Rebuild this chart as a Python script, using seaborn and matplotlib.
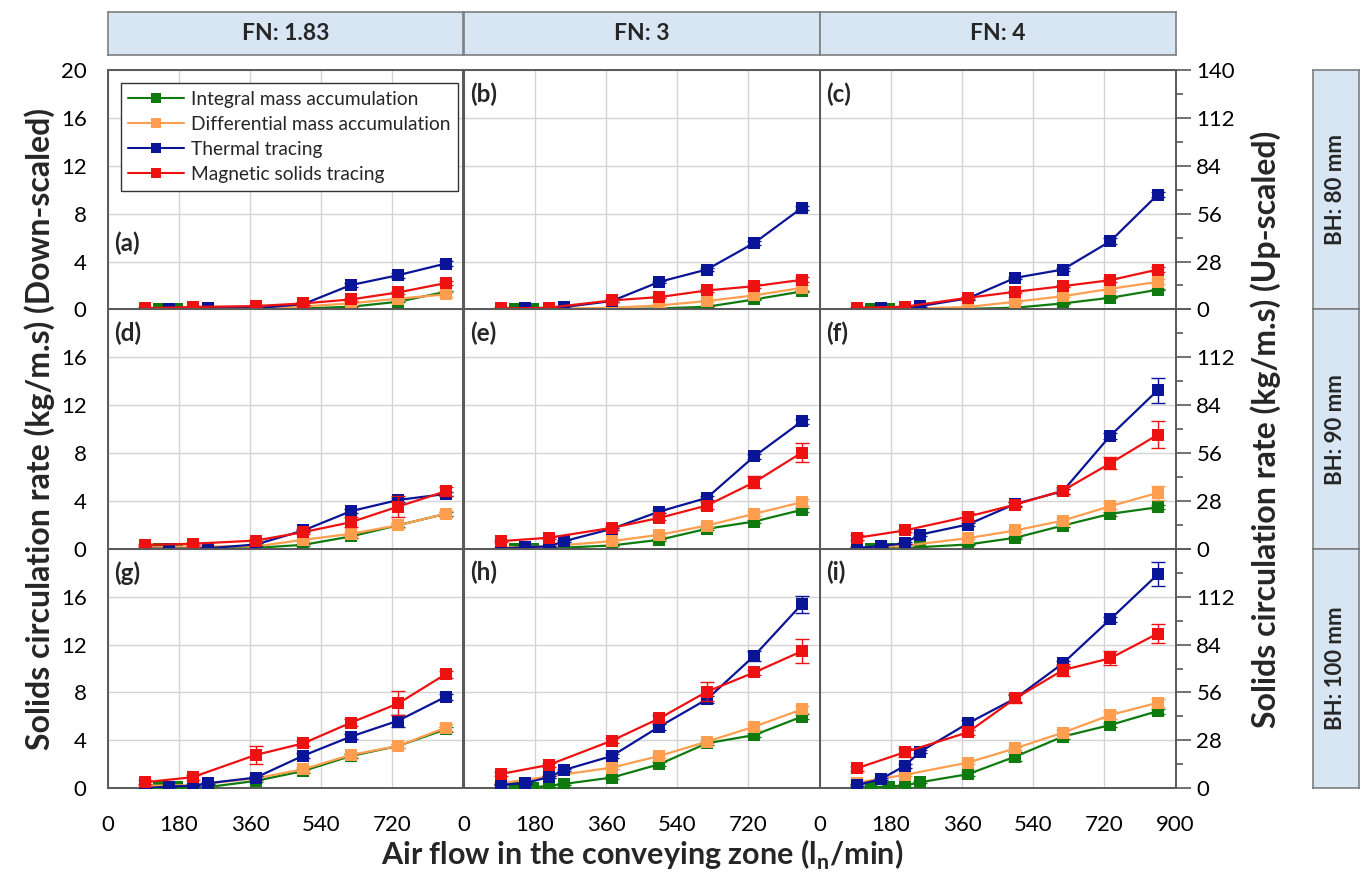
import numpy as np
import pandas as pd
import matplotlib
matplotlib.use("Agg")
import matplotlib.pyplot as plt
from matplotlib.lines import Line2D
from matplotlib.ticker import MultipleLocator
import seaborn as sns

# ---------------- data ----------------
panel_letters = ["a", "b", "c", "d", "e", "f", "g", "h", "i"]
fn_labels = ["FN: 1.83", "FN: 3", "FN: 4"]
bh_labels = ["BH: 80 mm", "BH: 90 mm", "BH: 100 mm"]
method_names = ["Integral mass accumulation", "Differential mass accumulation",
                "Thermal tracing", "Magnetic solids tracing"]

x_integral = [130, 175, 215, 255, 375, 495, 615, 735, 855]
x_differential = [95, 215, 375, 495, 615, 735, 855]
x_thermal = [95, 155, 215, 255, 375, 495, 615, 735, 855]
x_magnetic = [95, 215, 375, 495, 615, 735, 855]

integral = [
    [0, 0, 0, 0, 0.02, 0.08, 0.22, 0.64, 1.47],
    [0, 0, 0, 0, 0.02, 0.08, 0.22, 0.83, 1.50],
    [0, 0, 0, 0, 0.05, 0.14, 0.50, 0.97, 1.64],
    [0, 0, 0, 0.05, 0.08, 0.33, 1.03, 1.97, 2.92],
    [0, 0, 0.05, 0.10, 0.28, 0.75, 1.67, 2.28, 3.25],
    [0, 0, 0.05, 0.14, 0.36, 0.92, 1.94, 2.92, 3.47],
    [0.10, 0.10, 0.10, 0.10, 0.61, 1.44, 2.69, 3.53, 4.92],
    [0.05, 0.05, 0.20, 0.36, 0.89, 2.00, 3.75, 4.44, 5.97],
    [0.08, 0.14, 0.22, 0.50, 1.17, 2.64, 4.31, 5.28, 6.44],
]
differential = [
    [0.05, 0.10, 0.10, 0.25, 0.50, 0.90, 1.25],
    [0.00, 0.05, 0.14, 0.33, 0.70, 1.17, 1.80],
    [0.05, 0.05, 0.20, 0.64, 1.10, 1.72, 2.30],
    [0.10, 0.20, 0.20, 0.75, 1.25, 1.97, 2.92],
    [0.10, 0.20, 0.64, 1.17, 1.94, 2.92, 3.89],
    [0.10, 0.25, 0.89, 1.53, 2.36, 3.56, 4.67],
    [0.20, 0.25, 0.83, 1.58, 2.78, 3.53, 5.06],
    [0.42, 0.97, 1.72, 2.69, 3.89, 5.14, 6.58],
    [0.47, 1.11, 2.14, 3.33, 4.64, 6.11, 7.14],
]
thermal = [
    [0, 0, 0.05, 0.10, 0.10, 0.44, 2.03, 2.86, 3.83],
    [0, 0.08, 0, 0.20, 0.70, 2.30, 3.33, 5.55, 8.47],
    [0, 0.14, 0.05, 0.28, 0.92, 2.64, 3.33, 5.69, 9.58],
    [0, 0, 0, 0.05, 0.36, 1.53, 3.14, 4.08, 4.58],
    [0, 0.14, 0.20, 0.64, 1.67, 3.11, 4.25, 7.72, 10.64],
    [0.08, 0.22, 0.47, 1.19, 2.03, 3.75, 4.81, 9.44, 13.25],
    [0, 0.14, 0.20, 0.42, 0.89, 2.72, 4.31, 5.64, 7.64],
    [0.28, 0.42, 0.92, 1.53, 2.69, 5.14, 7.42, 11.06, 15.36],
    [0.28, 0.75, 1.86, 3.06, 5.42, 7.50, 10.42, 14.11, 17.86],
]
magnetic = [
    [0.10, 0.20, 0.28, 0.50, 0.83, 1.42, 2.20],
    [0.08, 0.14, 0.75, 1.03, 1.58, 1.94, 2.47],
    [0.14, 0.22, 0.97, 1.47, 1.94, 2.44, 3.33],
    [0.33, 0.42, 0.69, 1.39, 2.22, 3.53, 4.80],
    [0.64, 0.92, 1.75, 2.58, 3.61, 5.56, 8.03],
    [0.92, 1.53, 2.69, 3.69, 4.86, 7.14, 9.53],
    [0.50, 0.92, 2.78, 3.75, 5.47, 7.08, 9.53],
    [1.19, 1.94, 3.97, 5.83, 8.06, 9.67, 11.44],
    [1.67, 3.00, 4.67, 7.50, 9.86, 10.86, 12.92],
]

integral_err = [
    [0.05] * 9, [0.05] * 9, [0.05] * 9,
    [0.05, 0.05, 0.05, 0.05, 0.05, 0.1, 0.1, 0.15, 0.15],
    [0.05, 0.05, 0.05, 0.05, 0.05, 0.1, 0.1, 0.15, 0.15],
    [0.05, 0.05, 0.05, 0.05, 0.05, 0.1, 0.1, 0.15, 0.15],
    [0.1, 0.1, 0.1, 0.1, 0.1, 0.15, 0.15, 0.2, 0.2],
    [0.1, 0.1, 0.1, 0.1, 0.1, 0.15, 0.15, 0.2, 0.2],
    [0.1, 0.1, 0.1, 0.1, 0.15, 0.4, 0.2, 0.2, 0.2],
]
differential_err = [
    [0.05, 0.05, 0.05, 0.1, 0.1, 0.15, 0.2],
    [0.05, 0.05, 0.05, 0.1, 0.1, 0.15, 0.2],
    [0.05, 0.05, 0.05, 0.1, 0.1, 0.15, 0.2],
    [0.05, 0.05, 0.1, 0.1, 0.15, 0.2, 0.25],
    [0.05, 0.05, 0.1, 0.1, 0.15, 0.2, 0.3],
    [0.05, 0.05, 0.1, 0.15, 0.2, 0.25, 0.6],
    [0.1, 0.1, 0.1, 0.15, 0.2, 0.2, 0.3],
    [0.1, 0.1, 0.1, 0.15, 0.15, 0.25, 0.3],
    [0.1, 0.1, 0.1, 0.15, 0.2, 0.3, 0.35],
]
thermal_err = [
    [0.05, 0.05, 0.05, 0.1, 0.1, 0.1, 0.15, 0.2, 0.2],
    [0.05, 0.05, 0.05, 0.1, 0.1, 0.1, 0.15, 0.2, 0.2],
    [0.05, 0.05, 0.05, 0.1, 0.1, 0.1, 0.15, 0.25, 0.2],
    [0.05, 0.05, 0.05, 0.1, 0.1, 0.1, 0.15, 0.2, 0.2],
    [0.05, 0.05, 0.05, 0.1, 0.1, 0.15, 0.15, 0.2, 0.2],
    [0.05, 0.05, 0.1, 0.1, 0.15, 0.15, 0.2, 0.25, 1.05],
    [0.05, 0.05, 0.05, 0.1, 0.1, 0.2, 0.2, 0.5, 0.25],
    [0.05, 0.05, 0.1, 0.1, 0.2, 0.25, 0.3, 0.4, 0.7],
    [0.1, 0.1, 0.15, 0.15, 0.3, 0.3, 0.2, 0.2, 1.0],
]
magnetic_err = [
    [0.1, 0.1, 0.1, 0.1, 0.1, 0.15, 0.2],
    [0.1, 0.1, 0.1, 0.1, 0.1, 0.15, 0.2],
    [0.1, 0.1, 0.1, 0.1, 0.1, 0.15, 0.2],
    [0.1, 0.1, 0.1, 0.15, 0.4, 0.9, 0.4],
    [0.1, 0.1, 0.15, 0.2, 0.3, 0.5, 0.8],
    [0.2, 0.15, 0.3, 0.2, 0.3, 0.5, 1.15],
    [0.15, 0.2, 0.75, 0.2, 0.3, 1.0, 0.3],
    [0.2, 0.2, 0.2, 0.3, 0.8, 0.2, 1.0],
    [0.2, 0.4, 0.2, 0.4, 0.5, 0.6, 0.8],
]

x_ticks = [0, 180, 360, 540, 720, 900]
y_ticks = [0, 4, 8, 12, 16, 20]
y_ticks_right = [0, 28, 56, 84, 112, 140]

# ---------------- style ----------------
sns.set_style("white")
plt.rcParams["font.family"] = ["Lato", "DejaVu Sans"]
plt.rcParams["mathtext.fontset"] = "custom"
plt.rcParams["mathtext.rm"] = "Lato"
plt.rcParams["mathtext.bf"] = "Lato:bold"

colors = ["#0f7b0f", "#ff9e4f", "#0a1496", "#ee1111"]
spine_c = "#595959"
grid_c = "#d4d4d4"
TICK_FS = 16

W, H = 1363, 889
fig = plt.figure(figsize=(W / 100, H / 100), dpi=100)

left0 = 107.5
colw = 356.0
top0 = 70.0
rowh = 239.4


def fx(px):
    return px / W


def fy(px):
    return 1 - px / H


series = [
    (x_integral, integral, integral_err),
    (x_differential, differential, differential_err),
    (x_thermal, thermal, thermal_err),
    (x_magnetic, magnetic, magnetic_err),
]

for r in range(3):
    for c in range(3):
        k = r * 3 + c
        ax = fig.add_axes([fx(left0 + c * colw), fy(top0 + (r + 1) * rowh),
                           fx(colw), rowh / H])
        for m, (xs, ys, es) in enumerate(series):
            df = pd.DataFrame({"x": xs, "y": ys[k]})
            sns.lineplot(data=df, x="x", y="y", ax=ax, color=colors[m],
                         marker="s", markersize=8.5, markeredgewidth=0,
                         linewidth=1.6, errorbar=None, legend=False,
                         zorder=3 + m)
            ax.errorbar(xs, ys[k], yerr=es[k], fmt="none", ecolor=colors[m],
                        elinewidth=1.0, capsize=5, capthick=1.0,
                        zorder=3 + m)
        ax.set_xlim(0, 900)
        ax.set_ylim(0, 20)
        ax.set_xticks(x_ticks)
        ax.set_yticks(y_ticks)
        ax.xaxis.set_minor_locator(MultipleLocator(90))
        ax.yaxis.set_minor_locator(MultipleLocator(2))
        ax.grid(True, which="major", color=grid_c, linewidth=1.0)
        ax.set_axisbelow(True)
        ax.set_xlabel("")
        ax.set_ylabel("")
        for s in ax.spines.values():
            s.set_color(spine_c)
            s.set_linewidth(1.4)
        ax.tick_params(which="both", colors=spine_c, labelcolor="black",
                       labelsize=TICK_FS, direction="out")
        ax.tick_params(which="major", length=11, width=1.2)
        ax.tick_params(which="minor", length=5, width=1.2)
        # x axis
        if r == 2:
            labs = [str(t) for t in x_ticks]
            if c < 2:
                labs[-1] = ""
            ax.set_xticklabels(labs)
            ax.tick_params(axis="x", pad=8)
        else:
            ax.tick_params(axis="x", which="both", length=0, labelbottom=False)
        # y axis
        if c == 0:
            labs = [str(t) for t in y_ticks]
            if r > 0:
                labs[-1] = ""
            ax.set_yticklabels(labs)
            ax.tick_params(axis="y", pad=4)
        else:
            ax.tick_params(axis="y", which="both", length=0, labelleft=False)
        if c == 2:
            ax2 = ax.twinx()
            ax2.set_ylim(0, 140)
            ax2.set_yticks(y_ticks_right)
            ax2.yaxis.set_minor_locator(MultipleLocator(14))
            labs = [str(t) for t in y_ticks_right]
            if r > 0:
                labs[-1] = ""
            ax2.set_yticklabels(labs)
            ax2.grid(False)
            for s in ax2.spines.values():
                s.set_visible(False)
            ax2.tick_params(which="both", colors=spine_c, labelcolor="black",
                            labelsize=TICK_FS, direction="out")
            ax2.tick_params(which="major", length=11, width=1.2, pad=4)
            ax2.tick_params(which="minor", length=5, width=1.2)
        # panel letter
        ly = 0.275 if k == 0 else 0.9
        ax.text(0.018, ly, f"({panel_letters[k]})", transform=ax.transAxes,
                fontsize=17.5, fontweight="bold", ha="left", va="center",
                zorder=10)
        if k == 0:
            handles = [Line2D([0], [0], color=colors[m], marker="s",
                              markersize=7.5, markeredgewidth=0, linewidth=1.5)
                       for m in range(4)]
            leg = ax.legend(handles, method_names, loc="upper left",
                            bbox_to_anchor=(0.037, 0.945), fontsize=13.8,
                            frameon=True, fancybox=False, framealpha=1,
                            edgecolor="#333333", handlelength=2.9,
                            handletextpad=0.35, labelspacing=0.42,
                            borderpad=0.4, borderaxespad=0)
            leg.get_frame().set_linewidth(1.0)
            leg.set_zorder(20)

# column header boxes
box_fc = "#d7e6f2"
box_ec = "#7f7f7f"
for c in range(3):
    bx = fig.add_axes([fx(left0 + c * colw), fy(55), fx(colw), 43 / H])
    bx.set_facecolor(box_fc)
    bx.set_xticks([])
    bx.set_yticks([])
    for s in bx.spines.values():
        s.set_color(box_ec)
        s.set_linewidth(1.2)
    bx.text(0.5, 0.5, fn_labels[c], ha="center", va="center",
            fontsize=16.5, fontweight="bold", transform=bx.transAxes)

# row header boxes
for r in range(3):
    bx = fig.add_axes([fx(1313), fy(top0 + (r + 1) * rowh), fx(46), rowh / H])
    bx.set_facecolor(box_fc)
    bx.set_xticks([])
    bx.set_yticks([])
    for s in bx.spines.values():
        s.set_color(box_ec)
        s.set_linewidth(1.2)
    bx.text(0.5, 0.5, bh_labels[r], ha="center", va="center", rotation=90,
            fontsize=16, fontweight="bold", transform=bx.transAxes)

# axis titles
fig.text(fx(40), fy(429), "Solids circulation rate (kg/m.s) (Down-scaled)",
         rotation=90, ha="center", va="center", fontsize=23, fontweight="bold")
fig.text(fx(1266), fy(429), "Solids circulation rate (kg/m.s) (Up-scaled)",
         rotation=90, ha="center", va="center", fontsize=23, fontweight="bold")
fig.text(fx(642), fy(855), r"Air flow in the conveying zone (l$_\mathbf{n}$/min)",
         ha="center", va="center", fontsize=22, fontweight="bold")

fig.savefig("out.png", dpi=100)
